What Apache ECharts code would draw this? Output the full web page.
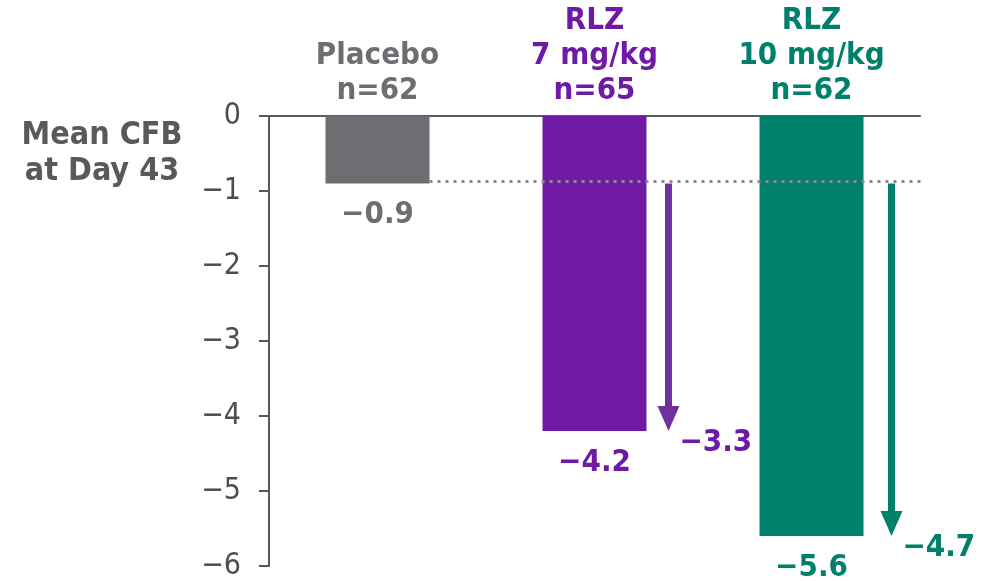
<!DOCTYPE html>
<html><head><meta charset="utf-8">
<script src="https://cdn.jsdelivr.net/npm/echarts@6/dist/echarts.min.js"></script>
<style>html,body{margin:0;padding:0;background:#fff}#c{width:997px;height:581px}</style>
</head><body><div id="c"></div>
<script>
// ---- data ----
const groups = ['Placebo', 'RLZ\n7 mg/kg', 'RLZ\n10 mg/kg'];
const nValues = [62, 65, 62];
const meanCFB = [-0.9, -4.2, -5.6];
const diffVsPlacebo = [null, -3.3, -4.7];
const yTicks = [0, -1, -2, -3, -4, -5, -6];
const yTickLabels = ['0', '\u22121', '\u22122', '\u22123', '\u22124', '\u22125', '\u22126'];
const axisTitle = 'Mean CFB\nat Day 43';

// ---- styles ----
const colors = ['#6d6e71', '#6f1aa6', '#00806b'];
const arrowColors = ['#8c8c8c', '#7030a0', '#00806b'];
const FONT = "'DejaVu Sans Condensed', 'DejaVu Sans', sans-serif";
const AXIS = '#58595b';
const BAR_W = 104;
const arrowOffsets = [0, 74, 80];
const fmt = v => (v < 0 ? '\u2212' : '') + Math.abs(v).toFixed(1);

const chart = echarts.init(document.getElementById('c'), null, {renderer: 'canvas'});
chart.setOption({
  animation: false,
  grid: {left: 269, top: 116, width: 651, height: 450},
  graphic: [{
    type: 'text',
    style: {text: axisTitle, x: 102, y: 154, align: 'center', verticalAlign: 'middle',
      fontFamily: FONT, fontWeight: 'bold', fontSize: 32, lineHeight: 36, fill: AXIS}
  }],
  xAxis: {
    type: 'category', position: 'top',
    data: groups.map((g, i) => g + '\nn=' + nValues[i]),
    axisLine: {show: true, onZero: true, lineStyle: {color: AXIS, width: 2}},
    axisTick: {show: false},
    splitLine: {show: false},
    axisLabel: {interval: 0, margin: 8, fontFamily: FONT, fontWeight: 'bold', fontSize: 31,
      lineHeight: 35, color: (v, i) => colors[i]}
  },
  yAxis: {
    type: 'value', min: -6, max: 0, interval: 1,
    axisLine: {show: true, lineStyle: {color: AXIS, width: 2}},
    axisTick: {show: true, length: 10, lineStyle: {color: AXIS, width: 2}},
    splitLine: {show: false},
    axisLabel: {margin: 28, fontFamily: FONT, fontSize: 30, color: '#4d4d4f',
      formatter: v => yTickLabels[yTicks.indexOf(v)]}
  },
  series: [{
    type: 'bar',
    barWidth: BAR_W,
    data: meanCFB.map((v, i) => ({value: v, itemStyle: {color: colors[i]}, label: {color: colors[i]}})),
    label: {show: true, position: 'bottom', distance: 16, fontFamily: FONT, fontWeight: 'bold',
      fontSize: 31, formatter: p => fmt(p.value)}
  }, {
    type: 'custom',
    data: diffVsPlacebo.map((d, i) => [i, d === null ? 0 : d]),
    renderItem: (params, api) => {
      const i = params.dataIndex;
      const cs = params.coordSys;
      const top = api.coord([i, meanCFB[0]]);
      if (i === 0) {
        return {
          type: 'line',
          shape: {x1: top[0] + BAR_W / 2, y1: top[1] - 2, x2: cs.x + cs.width + 2, y2: top[1] - 2},
          style: {stroke: arrowColors[0], lineWidth: 3, lineDash: [3, 5]}
        };
      }
      const d = api.value(1);
      const bot = api.coord([i, meanCFB[0] + d]);
      const x = top[0] + arrowOffsets[i];
      const head = 25, hw = 11, sw = 3.5;
      const c = arrowColors[i];
      return {
        type: 'group',
        children: [
          {type: 'rect', shape: {x: x - sw, y: top[1], width: sw * 2, height: bot[1] - head - top[1] + 1}, style: {fill: c}},
          {type: 'polygon', shape: {points: [[x - hw, bot[1] - head], [x + hw, bot[1] - head], [x, bot[1]]]}, style: {fill: c}},
          {type: 'text', style: {text: fmt(d), x: x + 11, y: bot[1] + 12, align: 'left', verticalAlign: 'middle',
            fontFamily: FONT, fontWeight: 'bold', fontSize: 31, fill: colors[i]}}
        ]
      };
    },
    z: 3
  }]
});
</script></body></html>
